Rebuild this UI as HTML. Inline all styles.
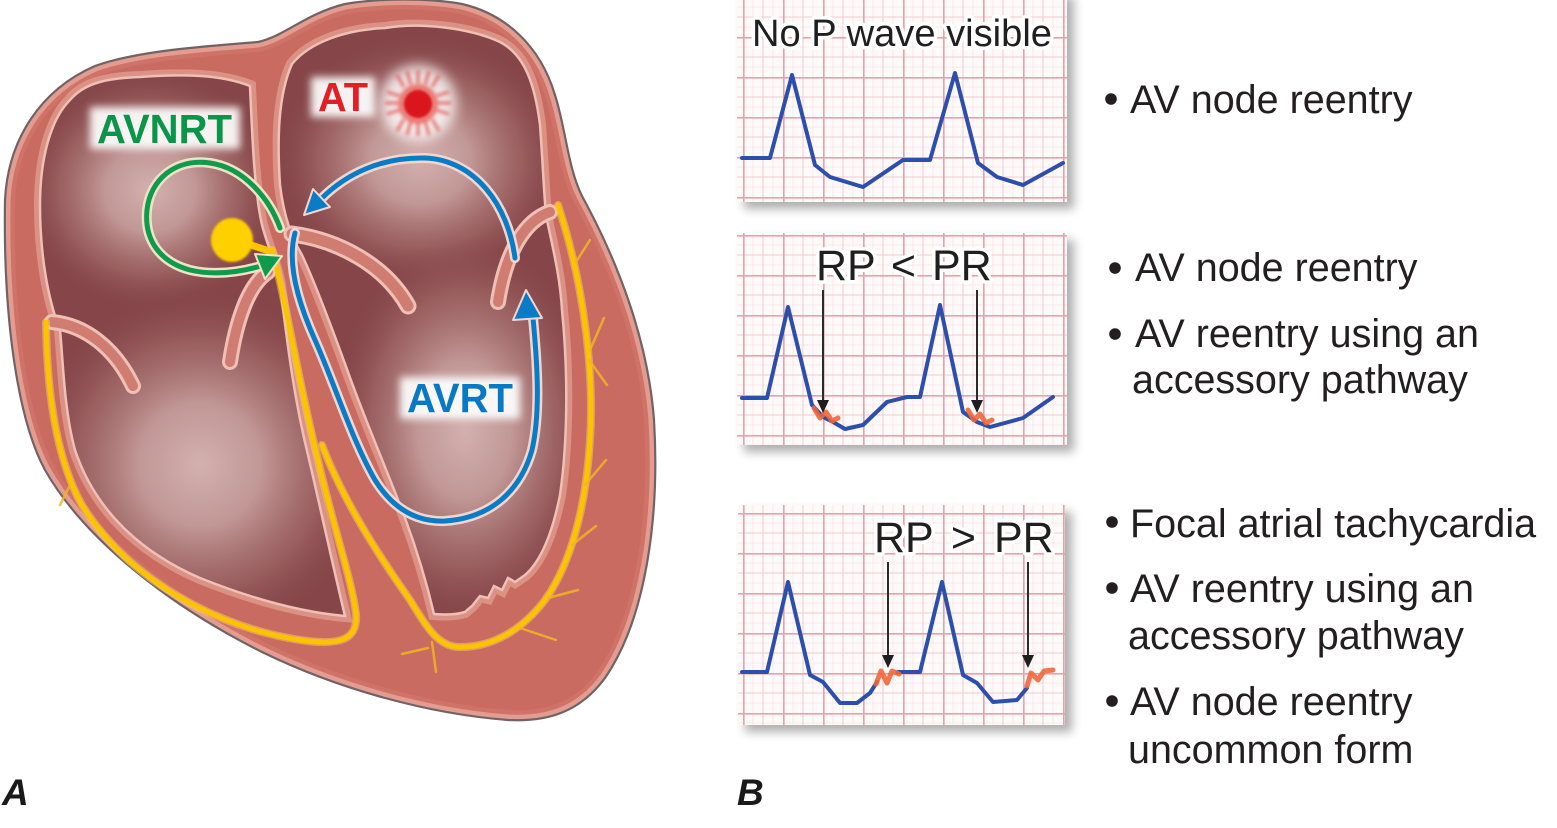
<!DOCTYPE html>
<html><head><meta charset="utf-8">
<style>
html,body{margin:0;padding:0;background:#fff;}
svg{display:block;}
text{font-family:"Liberation Sans",Arial,sans-serif;}
</style></head><body>
<svg width="1557" height="828" viewBox="0 0 1557 828" xmlns="http://www.w3.org/2000/svg">
<defs>
 <path id="outer" d="M 5,200 C 8,140 40,90 95,66 C 140,50 210,46 258,42 C 285,36 305,14 345,4 C 380,-2 430,-2 462,4 C 505,14 540,45 555,95 C 566,130 568,168 582,196 C 618,262 648,340 654,420 C 660,520 645,620 605,678 C 580,712 548,722 508,720 C 430,714 340,690 262,652 C 170,606 85,540 45,470 C 18,420 3,320 5,200 Z"/>
 <path id="cavL" d="M 70,100 C 85,82 110,78 140,77 C 180,74 220,74 250,86 C 252,130 254,190 262,225 C 268,248 276,262 280,285 C 286,330 292,390 308,455 C 322,515 335,575 345,616 C 300,612 250,598 200,578 C 140,552 95,510 75,450 C 64,410 63,360 60,330 C 48,300 40,255 40,205 C 40,160 50,120 70,100 Z"/>
 <path id="cavR" d="M 292,64 C 310,42 345,30 385,28 C 420,22 470,28 500,42 C 525,55 535,85 540,125 C 543,165 544,195 546,215 C 552,245 560,275 562,310 C 568,370 568,440 560,495 C 552,535 540,562 525,575 L 515,582 L 508,578 L 502,590 L 494,586 L 488,598 L 480,596 L 472,606 L 465,612 C 455,615 445,615 434,614 C 426,580 415,545 405,518 C 385,465 365,420 348,372 C 332,328 316,285 302,255 C 292,238 284,218 280,185 C 277,140 278,95 292,64 Z"/>
 <clipPath id="clipOuter"><use href="#outer"/></clipPath>
 <clipPath id="clipL"><use href="#cavL"/></clipPath>
 <clipPath id="clipR"><use href="#cavR"/></clipPath>
 <radialGradient id="hl">
  <stop offset="0" stop-color="#d3b0ae"/>
  <stop offset="0.35" stop-color="#c49c9a" stop-opacity="0.95"/>
  <stop offset="0.7" stop-color="#a8706f" stop-opacity="0.6"/>
  <stop offset="1" stop-color="#8a4b4e" stop-opacity="0"/>
 </radialGradient>
 <filter id="blur4" x="-30%" y="-30%" width="160%" height="160%"><feGaussianBlur stdDeviation="4"/></filter>
 <filter id="blur5" x="-50%" y="-50%" width="200%" height="200%"><feGaussianBlur stdDeviation="6"/></filter>
 <filter id="blur1" x="-20%" y="-20%" width="140%" height="140%"><feGaussianBlur stdDeviation="1"/></filter>
 <filter id="blur2" x="-30%" y="-30%" width="160%" height="160%"><feGaussianBlur stdDeviation="1.8"/></filter>
 <filter id="shadow" x="-10%" y="-10%" width="130%" height="130%">
  <feGaussianBlur in="SourceAlpha" stdDeviation="5"/>
  <feOffset dx="7" dy="7"/>
  <feComponentTransfer><feFuncA type="linear" slope="0.32"/></feComponentTransfer>
  <feMerge><feMergeNode/><feMergeNode in="SourceGraphic"/></feMerge>
 </filter>
 <pattern id="g1" x="743" y="37" width="40" height="40" patternUnits="userSpaceOnUse">
  <rect width="40" height="40" fill="#fffafa"/>
  <path d="M10 0V40M30 0V40M0 10H40M0 30H40" stroke="#f7e4e6" stroke-width="0.8"/>
  <path d="M20 0V40M0 20H40" stroke="#efcbce" stroke-width="1"/>
  <path d="M0.8 0V40M0 0.8H40" stroke="#e2a4ac" stroke-width="1.7"/>
 </pattern>
 <pattern id="g2" x="743" y="235" width="40" height="40" patternUnits="userSpaceOnUse">
  <rect width="40" height="40" fill="#fffafa"/>
  <path d="M10 0V40M30 0V40M0 10H40M0 30H40" stroke="#f7e4e6" stroke-width="0.8"/>
  <path d="M20 0V40M0 20H40" stroke="#efcbce" stroke-width="1"/>
  <path d="M0.8 0V40M0 0.8H40" stroke="#e2a4ac" stroke-width="1.7"/>
 </pattern>
 <pattern id="g3" x="743" y="513" width="40" height="40" patternUnits="userSpaceOnUse">
  <rect width="40" height="40" fill="#fffafa"/>
  <path d="M10 0V40M30 0V40M0 10H40M0 30H40" stroke="#f7e4e6" stroke-width="0.8"/>
  <path d="M20 0V40M0 20H40" stroke="#efcbce" stroke-width="1"/>
  <path d="M0.8 0V40M0 0.8H40" stroke="#e2a4ac" stroke-width="1.7"/>
 </pattern>
</defs>

<rect width="1557" height="828" fill="#fff"/>

<!-- ================= HEART ================= -->
<use href="#outer" fill="#c96b60"/>
<g clip-path="url(#clipOuter)">
 <use href="#outer" fill="none" stroke="#eaaa9e" stroke-width="11"/>
 <use href="#outer" fill="none" stroke="#d98478" stroke-width="20" opacity="0.35"/>
</g>
<use href="#outer" fill="none" stroke="#6f6365" stroke-width="2.2"/>

<!-- cavity surrounds -->
<use href="#cavL" fill="none" stroke="#dc9185" stroke-width="12"/>
<use href="#cavR" fill="none" stroke="#dc9185" stroke-width="12"/>
<!-- cavities -->
<use href="#cavL" fill="#864649"/>
<use href="#cavR" fill="#864649"/>
<g clip-path="url(#clipL)">
 <ellipse cx="150" cy="190" rx="130" ry="120" fill="url(#hl)"/>
 <ellipse cx="200" cy="465" rx="175" ry="175" fill="url(#hl)"/>
</g>
<g clip-path="url(#clipR)">
 <ellipse cx="420" cy="160" rx="145" ry="125" fill="url(#hl)"/>
 <ellipse cx="465" cy="430" rx="135" ry="195" fill="url(#hl)"/>
</g>
<use href="#cavL" fill="none" stroke="#efc0b6" stroke-width="2.5"/>
<use href="#cavR" fill="none" stroke="#efc0b6" stroke-width="2.5"/>

<!-- valve leaflets -->
<g fill="none" stroke-linecap="round">
 <path d="M 52,322 C 85,325 115,348 133,386" stroke="#efc0b6" stroke-width="16"/>
 <path d="M 52,322 C 85,325 115,348 133,386" stroke="#d07c71" stroke-width="10"/>
 <path d="M 268,272 C 248,285 236,322 230,362" stroke="#efc0b6" stroke-width="16"/>
 <path d="M 268,272 C 248,285 236,322 230,362" stroke="#d07c71" stroke-width="10"/>
 <path d="M 292,234 C 338,240 385,265 408,306" stroke="#efc0b6" stroke-width="17"/>
 <path d="M 292,234 C 338,240 385,265 408,306" stroke="#d07c71" stroke-width="11"/>
 <path d="M 550,212 C 526,220 506,250 498,302" stroke="#efc0b6" stroke-width="16"/>
 <path d="M 550,212 C 526,220 506,250 498,302" stroke="#d07c71" stroke-width="10"/>
</g>

<!-- conduction system (yellow) -->
<g fill="none" stroke-linecap="round" stroke-linejoin="round">
 <path d="M 272,250 C 286,300 298,380 318,460 C 334,530 352,580 356,614 C 358,640 340,646 300,640 C 220,628 130,582 82,505 C 58,462 47,400 46,322" stroke="#f7d26a" stroke-width="8" opacity="0.5"/>
 <path d="M 272,250 C 286,300 298,380 318,460 C 334,530 352,580 356,614 C 358,640 340,646 300,640 C 220,628 130,582 82,505 C 58,462 47,400 46,322" stroke="#fcc400" stroke-width="5"/>
 <path d="M 322,445 C 345,505 382,560 410,600 C 424,622 436,646 458,647 C 492,648 522,630 545,600 C 572,562 586,505 590,440 C 594,380 586,290 558,205" stroke="#f7d26a" stroke-width="8" opacity="0.5"/>
 <path d="M 322,445 C 345,505 382,560 410,600 C 424,622 436,646 458,647 C 492,648 522,630 545,600 C 572,562 586,505 590,440 C 594,380 586,290 558,205" stroke="#fcc400" stroke-width="5"/>
 <g stroke="#f3b424" stroke-width="2.5" opacity="0.85">
  <path d="M 590,350 L 604,318"/>
  <path d="M 589,360 L 607,385"/>
  <path d="M 585,485 L 606,460"/>
  <path d="M 572,545 L 596,526"/>
  <path d="M 548,598 L 578,590"/>
  <path d="M 520,628 L 556,640"/>
  <path d="M 432,642 L 436,672"/>
  <path d="M 428,648 L 402,654"/>
  <path d="M 576,262 L 590,240"/>
  <path d="M 70,485 L 60,505"/>
 </g>
 <path d="M 248,244 L 272,252" stroke="#fcc400" stroke-width="7"/>
</g>

<!-- AV node -->
<ellipse cx="232" cy="240" rx="21" ry="22" fill="#ffd000" filter="url(#blur1)"/>

<!-- Blue AVRT loop -->
<g fill="none" stroke-linecap="round">
 <path d="M 295,233 C 287,262 297,300 315,340 C 335,385 352,440 375,480 C 395,512 420,522 445,521 C 490,518 520,492 532,450 C 540,415 538,370 533,318" stroke="#f2d6cf" stroke-width="10"/>
 <path d="M 515,258 C 508,205 475,160 425,158 C 380,157 345,175 321,199" stroke="#f2d6cf" stroke-width="10"/>
 <path d="M 295,233 C 287,262 297,300 315,340 C 335,385 352,440 375,480 C 395,512 420,522 445,521 C 490,518 520,492 532,450 C 540,415 538,370 533,318" stroke="#0a7cc6" stroke-width="5"/>
 <path d="M 515,258 C 508,205 475,160 425,158 C 380,157 345,175 321,199" stroke="#0a7cc6" stroke-width="5"/>
</g>
<polygon points="526,290 513,320 542,318" fill="#0a7cc6" stroke="#f2d6cf" stroke-width="2" stroke-linejoin="round"/>
<polygon points="304,215 330,207 313,189" fill="#0a7cc6" stroke="#f2d6cf" stroke-width="2" stroke-linejoin="round"/>

<!-- Green AVNRT loop -->
<g fill="none" stroke-linecap="round">
 <path d="M 280,228 C 270,200 245,168 210,163 C 175,158 150,180 147,210 C 144,240 160,262 190,270 C 215,276 240,272 261,266" stroke="#f0e2c8" stroke-width="10"/>
 <path d="M 280,228 C 270,200 245,168 210,163 C 175,158 150,180 147,210 C 144,240 160,262 190,270 C 215,276 240,272 261,266" stroke="#0f9a4c" stroke-width="5"/>
</g>
<polygon points="282,256 265,279 255,254" fill="#0f9a4c" stroke="#f0e2c8" stroke-width="2" stroke-linejoin="round"/>

<!-- AT focus -->
<g>
 <circle cx="418" cy="103" r="38" fill="#ffffff" opacity="0.8" filter="url(#blur5)"/>
 <g stroke="#e0403a" stroke-width="3" opacity="0.7" filter="url(#blur2)">
  <line x1="418" y1="84" x2="418" y2="70"/>
  <line x1="418" y1="122" x2="418" y2="136"/>
  <line x1="399" y1="103" x2="385" y2="103"/>
  <line x1="437" y1="103" x2="451" y2="103"/>
  <line x1="411" y1="85" x2="407" y2="71"/>
  <line x1="425" y1="85" x2="429" y2="71"/>
  <line x1="404" y1="87" x2="397" y2="75"/>
  <line x1="432" y1="87" x2="439" y2="75"/>
  <line x1="411" y1="121" x2="407" y2="135"/>
  <line x1="425" y1="121" x2="429" y2="135"/>
  <line x1="404" y1="119" x2="397" y2="131"/>
  <line x1="432" y1="119" x2="439" y2="131"/>
  <line x1="400" y1="96" x2="387" y2="92"/>
  <line x1="400" y1="110" x2="387" y2="114"/>
  <line x1="436" y1="96" x2="449" y2="92"/>
  <line x1="436" y1="110" x2="449" y2="114"/>
 </g>
 <circle cx="418" cy="104" r="20" fill="#e8453a" opacity="0.65" filter="url(#blur2)"/>
 <circle cx="418" cy="104" r="14" fill="#d9161f" filter="url(#blur1)"/>
</g>

<!-- label glows -->
<rect x="90" y="107" width="150" height="42" fill="#fff" opacity="0.92" filter="url(#blur4)"/>
<rect x="311" y="77" width="64" height="40" fill="#fff" opacity="0.92" filter="url(#blur4)"/>
<rect x="400" y="377" width="120" height="42" fill="#fff" opacity="0.92" filter="url(#blur4)"/>
<text x="97" y="143" font-size="41" font-weight="bold" fill="#0b9548" textLength="135" lengthAdjust="spacingAndGlyphs">AVNRT</text>
<text x="318" y="111" font-size="41" font-weight="bold" fill="#e31e24" textLength="50" lengthAdjust="spacingAndGlyphs">AT</text>
<text x="407" y="412" font-size="41" font-weight="bold" fill="#0a79c4" textLength="106" lengthAdjust="spacingAndGlyphs">AVRT</text>

<!-- ================= ECG PANELS ================= -->
<rect x="737" y="-10" width="330" height="212" fill="#fff" filter="url(#shadow)"/>
<rect x="737" y="-10" width="330" height="212" fill="url(#g1)"/>
<rect x="737" y="233" width="330" height="212" fill="#fff" filter="url(#shadow)"/>
<rect x="737" y="233" width="330" height="212" fill="url(#g2)"/>
<rect x="738" y="505" width="327" height="220" fill="#fff" filter="url(#shadow)"/>
<rect x="738" y="505" width="327" height="220" fill="url(#g3)"/>

<g fill="none" stroke="#2c4ead" stroke-width="4" stroke-linejoin="round" stroke-linecap="round">
 <polyline points="742,158 770,158 792,75 815,165 830,177 863,187 903,160 930,160 955,73 978,163 997,177 1023,185 1063,163"/>
 <polyline points="742,398 767,398 788,307 812,405 823,417 833,422 845,429 863,425 887,402 907,397 920,397 940,305 963,412 977,422 990,427 1023,418 1053,397"/>
 <polyline points="742,672 767,672 788,582 810,675 823,682 840,703 857,703 870,693 877,682"/>
 <polyline points="898,672 920,672 942,582 963,675 977,683 993,702 1017,700 1027,688"/>
</g>
<g fill="none" stroke="#f2663a" stroke-width="5" stroke-linejoin="round" stroke-linecap="round" opacity="0.9">
 <path d="M 814,408 L 820,418 L 826,412 L 832,421 L 838,418"/>
 <path d="M 968,410 L 974,420 L 980,414 L 986,423 L 992,420"/>
 <path d="M 876,684 L 881,671 L 887,683 L 892,671 L 899,674"/>
 <path d="M 1027,686 L 1031,673 L 1038,680 L 1044,671 L 1053,670"/>
</g>

<!-- arrows -->
<g stroke="#2a2a2a" stroke-width="2">
 <line x1="823" y1="290" x2="823" y2="402"/>
 <line x1="977" y1="290" x2="977" y2="402"/>
 <line x1="888" y1="562" x2="888" y2="657"/>
 <line x1="1028" y1="562" x2="1028" y2="657"/>
</g>
<g fill="#1e1e1e">
 <polygon points="817,400 829,400 823,413"/>
 <polygon points="971,400 983,400 977,413"/>
 <polygon points="882,655 894,655 888,668"/>
 <polygon points="1022,655 1034,655 1028,668"/>
</g>

<g fill="#1f1f1f" stroke="#fff" stroke-width="7" stroke-linejoin="round" paint-order="stroke">
 <text x="752" y="46" font-size="38" textLength="300" lengthAdjust="spacingAndGlyphs">No P wave visible</text>
 <text x="816" y="280" font-size="43" word-spacing="4">RP &lt; PR</text>
 <text x="874" y="552" font-size="43" word-spacing="6">RP &gt; PR</text>
</g>

<!-- ================= RIGHT TEXT ================= -->
<g font-size="39.5" fill="#231f20">
 <circle cx="1111" cy="99" r="5.8"/>
 <text x="1130" y="113">AV node reentry</text>

 <circle cx="1115" cy="268" r="5.8"/>
 <text x="1135" y="281">AV node reentry</text>
 <circle cx="1115" cy="334" r="5.8"/>
 <text x="1135" y="347">AV reentry using an</text>
 <text x="1132" y="393">accessory pathway</text>

 <circle cx="1112" cy="522" r="5.8"/>
 <text x="1130" y="537">Focal atrial tachycardia</text>
 <circle cx="1112" cy="588" r="5.8"/>
 <text x="1130" y="602">AV reentry using an</text>
 <text x="1128" y="649">accessory pathway</text>
 <circle cx="1112" cy="701" r="5.8"/>
 <text x="1130" y="715">AV node reentry</text>
 <text x="1128" y="763">uncommon form</text>
</g>

<!-- panel letters -->
<text x="2" y="805" font-size="37" font-weight="bold" font-style="italic" fill="#1a1a1a">A</text>
<text x="737" y="805" font-size="37" font-weight="bold" font-style="italic" fill="#1a1a1a">B</text>
</svg>
</body></html>
